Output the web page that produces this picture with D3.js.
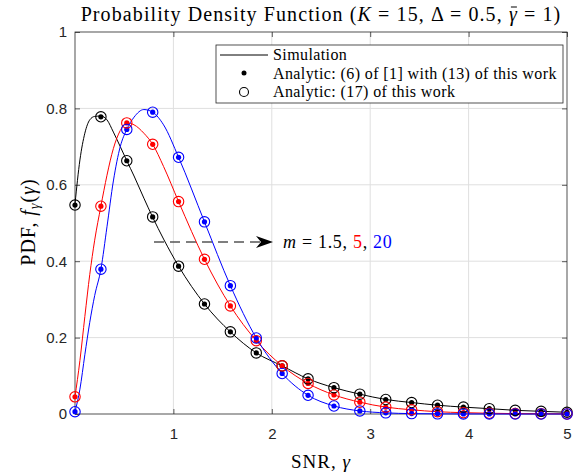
<!DOCTYPE html>
<html><head><meta charset="utf-8">
<script src="https://cdn.jsdelivr.net/npm/d3@7"></script>
<style>body{margin:0;background:#fff}</style>
</head><body><svg id="c" width="585" height="474"></svg>
<script>
// ---- data ----
const markerX = [0,0.2632,0.5263,0.7895,1.0526,1.3158,1.5789,1.8421,2.1053,2.3684,2.6316,2.8947,3.1579,3.4211,3.6842,3.9474,4.2105,4.4737,4.7368,5];
const analyticBlack = [0.547,0.778,0.663,0.516,0.387,0.288,0.215,0.16,0.126,0.092,0.069,0.052,0.038,0.03,0.023,0.018,0.014,0.0096,0.007,0.0045];
const analyticRed   = [0.045,0.544,0.762,0.706,0.556,0.405,0.283,0.192,0.126,0.080,0.050,0.031,0.018,0.011,0.006,0.0035,0.002,0.001,0.0006,0.0003];
const analyticBlue  = [0.006,0.379,0.745,0.79,0.672,0.503,0.336,0.199,0.106,0.049,0.021,0.008,0.003,0.001,0.0004,0.0002,0.0001,0,0,0];

const simX = [0,0.05,0.1,0.15,0.2,0.2632,0.325,0.39,0.46,0.5263,0.6,0.7,0.7895,0.9,1.0526,1.3158,1.5789,1.8421,2.1053,2.3684,2.6316,2.8947,3.1579,3.4211,3.6842,3.9474,4.2105,4.4737,4.7368,5];
const simBlack = [0.55,0.665,0.735,0.77,0.779,0.78,0.77,0.738,0.70,0.663,0.623,0.565,0.515,0.458,0.387,0.288,0.215,0.16,0.126,0.092,0.069,0.052,0.038,0.03,0.023,0.018,0.014,0.0096,0.007,0.0045];
const simRed   = [0.045,0.14,0.255,0.365,0.455,0.544,0.625,0.695,0.742,0.762,0.757,0.735,0.706,0.648,0.556,0.405,0.283,0.192,0.126,0.080,0.050,0.031,0.018,0.011,0.006,0.0035,0.002,0.001,0.0006,0.0003];
const simBlue  = [0.006,0.065,0.155,0.24,0.31,0.379,0.49,0.61,0.70,0.745,0.777,0.797,0.79,0.757,0.672,0.503,0.336,0.199,0.106,0.049,0.021,0.008,0.003,0.001,0.0004,0.0002,0.0001,0,0,0];

const xTicks = [1,2,3,4,5];
const yTicks = [0,0.2,0.4,0.6,0.8,1];
const yTickLabels = ["0","0.2","0.4","0.6","0.8","1"];
const mValues = ["1.5","5","20"];

const series = [
  {color:"#000000", sim:simBlack, an:analyticBlack},
  {color:"#ff0000", sim:simRed, an:analyticRed},
  {color:"#0000ff", sim:simBlue, an:analyticBlue}
];

// ---- layout ----
const L=75, R=567, T=32, B=414;
const x = d3.scaleLinear().domain([0,5]).range([L,R]);
const y = d3.scaleLinear().domain([0,1]).range([B,T]);
const svg = d3.select("#c");
const serif = "'Liberation Serif','DejaVu Serif',serif";
const sans = "'Liberation Sans',Arial,sans-serif";
const axCol = "#262626";

// grid
svg.append("g").selectAll("line").data(xTicks.filter(d=>d<5)).join("line")
  .attr("x1",d=>x(d)).attr("x2",d=>x(d)).attr("y1",T).attr("y2",B)
  .attr("stroke","#dfdfdf").attr("stroke-width",1);
svg.append("g").selectAll("line").data(yTicks.filter(d=>d>0&&d<1)).join("line")
  .attr("y1",d=>y(d)).attr("y2",d=>y(d)).attr("x1",L).attr("x2",R)
  .attr("stroke","#dfdfdf").attr("stroke-width",1);

// axes
const xAxis = d3.axisBottom(x).tickValues(xTicks).tickSize(-5).tickPadding(14).tickFormat(d3.format("d"));
svg.append("g").attr("transform",`translate(0,${B})`).call(xAxis);
const yAxis = d3.axisLeft(y).tickValues(yTicks).tickSize(-5).tickPadding(8).tickFormat((d,i)=>yTickLabels[i]);
svg.append("g").attr("transform",`translate(${L},0)`).call(yAxis);
svg.append("g").attr("transform",`translate(0,${T})`).call(d3.axisTop(x).tickValues(xTicks).tickSize(-5).tickFormat(""));
svg.append("g").attr("transform",`translate(${R},0)`).call(d3.axisRight(y).tickValues(yTicks).tickSize(-5).tickFormat(""));
svg.selectAll(".domain").remove();
svg.selectAll(".tick line").attr("stroke",axCol).attr("stroke-width",0.75);
svg.selectAll(".tick text").attr("font-family",sans).attr("font-size",15).attr("fill",axCol);
svg.append("rect").attr("x",L).attr("y",T).attr("width",R-L).attr("height",B-T)
  .attr("fill","none").attr("stroke",axCol).attr("stroke-width",0.8);

// lines
const line = d3.line().x(d=>x(d[0])).y(d=>y(d[1])).curve(d3.curveMonotoneX);
series.forEach(s=>{
  svg.append("path").datum(simX.map((v,i)=>[v,s.sim[i]]))
    .attr("d",line).attr("fill","none").attr("stroke",s.color).attr("stroke-width",1);
});
series.forEach(s=>{
  svg.append("g").selectAll("circle").data(markerX.map((v,i)=>[v,s.an[i]])).join("circle")
    .attr("cx",d=>x(d[0])).attr("cy",d=>y(d[1])).attr("r",2.6).attr("fill",s.color);
});
series.forEach(s=>{
  svg.append("g").selectAll("circle").data(markerX.map((v,i)=>[v,s.an[i]])).join("circle")
    .attr("cx",d=>x(d[0])).attr("cy",d=>y(d[1])).attr("r",5.2).attr("fill","none")
    .attr("stroke",s.color).attr("stroke-width",1.1);
});

// annotation arrow
const ay = 242;
svg.append("line").attr("x1",154).attr("x2",262).attr("y1",ay).attr("y2",ay)
  .attr("stroke","#555").attr("stroke-width",1.6).attr("stroke-dasharray","10,6");
svg.append("path").attr("d",`M273,${ay} L256,${ay-6} L261,${ay} L256,${ay+6} Z`).attr("fill","#000");
const ann = svg.append("text").attr("x",283).attr("y",ay+6).attr("font-family",serif).attr("font-size",18).attr("letter-spacing",0.7);
ann.append("tspan").attr("font-style","italic").text("m");
ann.append("tspan").text(" = " + mValues[0] + ", ");
ann.append("tspan").attr("fill","#ff0000").text(mValues[1]);
ann.append("tspan").text(", ");
ann.append("tspan").attr("fill","#0000ff").text(mValues[2]);

// legend
const lg = svg.append("g");
lg.append("rect").attr("x",216).attr("y",45).attr("width",347).attr("height",58)
  .attr("fill","#fff").attr("stroke","#262626").attr("stroke-width",0.8);
lg.append("line").attr("x1",220).attr("x2",268).attr("y1",55).attr("y2",55).attr("stroke","#000").attr("stroke-width",1);
lg.append("circle").attr("cx",244).attr("cy",73).attr("r",2.5).attr("fill","#000");
lg.append("circle").attr("cx",244).attr("cy",92).attr("r",4.5).attr("fill","none").attr("stroke","#000").attr("stroke-width",1.1);
const legTexts = ["Simulation","Analytic: (6) of [1] with (13) of this work","Analytic: (17) of this work"];
[55,73.5,92].forEach((yy,i)=>{
  lg.append("text").attr("x",273).attr("y",yy+5).attr("font-family",serif).attr("font-size",16)
    .attr("letter-spacing",0.4).attr("fill","#000").text(legTexts[i]);
});

// title
const t = svg.append("text").attr("x",321).attr("y",21).attr("text-anchor","middle")
  .attr("font-family",serif).attr("font-size",20).attr("letter-spacing",1.1).attr("fill","#000");
t.append("tspan").text("Probability Density Function (");
t.append("tspan").attr("font-style","italic").text("K");
t.append("tspan").text(" = 15, Δ = 0.5, ");
const gb = t.append("tspan").attr("font-style","italic").text("γ");
t.append("tspan").text(" = 1)");
// macron over gamma
{
  const full = t.node().textContent;
  const idx = full.indexOf("γ");
  const ext = t.node().getExtentOfChar(idx);
  svg.append("line").attr("x1",ext.x+2).attr("x2",ext.x+ext.width-1)
    .attr("y1",ext.y+4).attr("y2",ext.y+4).attr("stroke","#000").attr("stroke-width",1);
}

// x label
const xl = svg.append("text").attr("x",321).attr("y",468).attr("text-anchor","middle")
  .attr("font-family",serif).attr("font-size",19).attr("letter-spacing",1).attr("fill","#000");
xl.append("tspan").text("SNR, ");
xl.append("tspan").attr("font-style","italic").text("γ");

// y label
const yl = svg.append("text").attr("transform","translate(35,222) rotate(-90)").attr("text-anchor","middle")
  .attr("font-family",serif).attr("font-size",20).attr("letter-spacing",1).attr("fill","#000");
yl.append("tspan").text("PDF, ");
yl.append("tspan").attr("font-style","italic").text("f");
yl.append("tspan").attr("font-style","italic").attr("font-size",14).attr("dy",4).text("γ");
yl.append("tspan").attr("dy",-4).text("(");
yl.append("tspan").attr("font-style","italic").text("γ");
yl.append("tspan").text(")");
</script></body></html>
